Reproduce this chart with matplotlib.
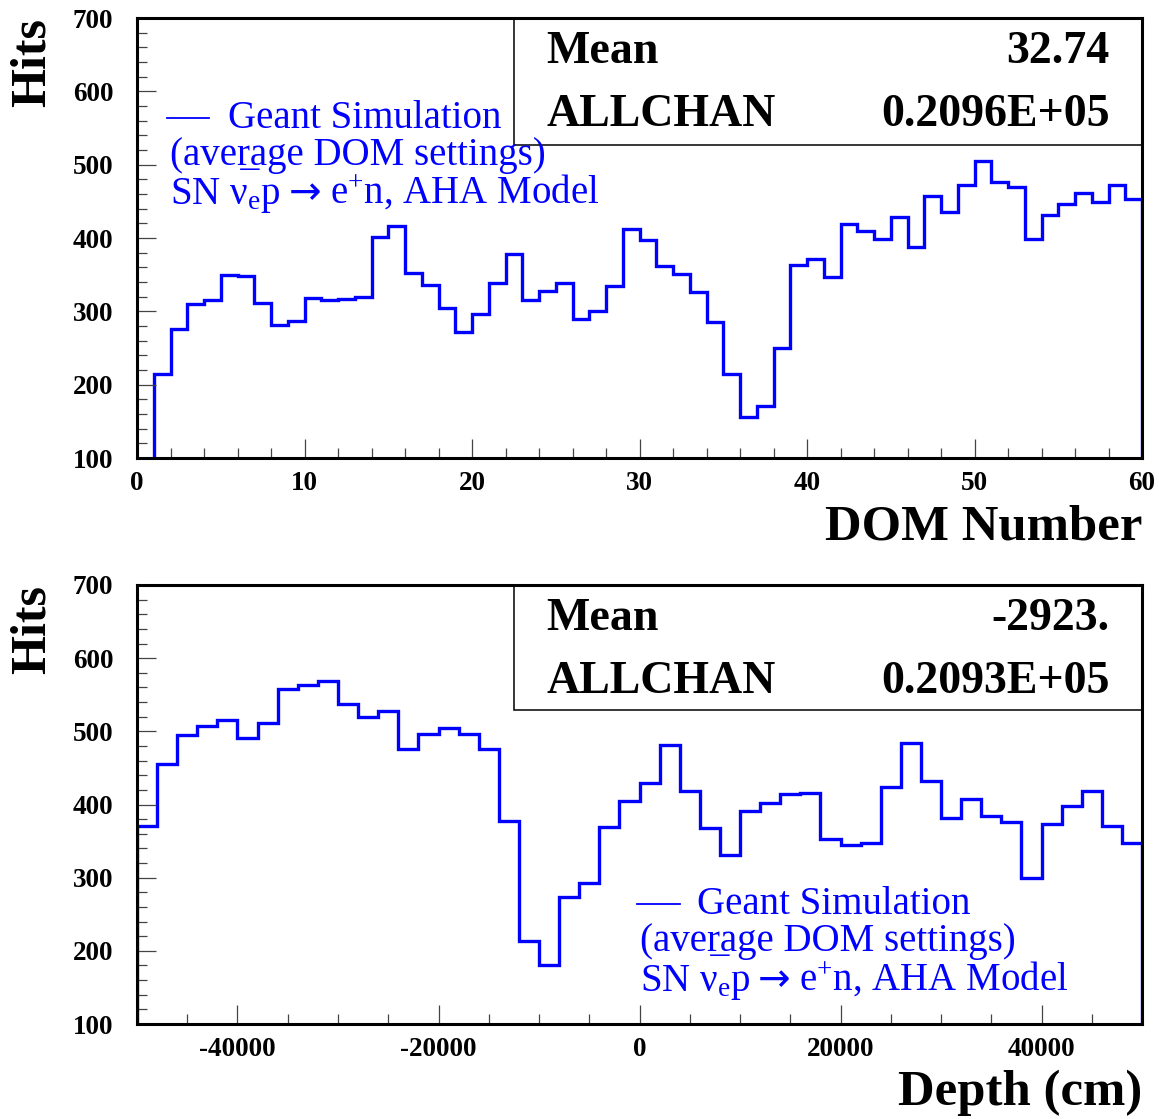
import matplotlib
matplotlib.use('Agg')
import matplotlib.pyplot as plt
from matplotlib.patches import Rectangle
from matplotlib.ticker import MultipleLocator, FuncFormatter
from matplotlib.offsetbox import TextArea, HPacker, AnnotationBbox
import numpy as np

# hits per DOM (bin 0 is empty)
dom_hits = [0, 215, 276, 310, 315, 350, 348, 312, 281, 287,
            318, 316, 317, 319, 402, 416, 352, 336, 305, 272,
            297, 338, 378, 315, 328, 339, 290, 300, 335, 412,
            397, 362, 351, 327, 285, 214, 156, 171, 250, 363,
            372, 347, 419, 410, 399, 429, 388, 457, 436, 472,
            505, 477, 469, 399, 432, 447, 462, 449, 472, 453]
dom_edges = np.arange(0, 61)

# hits per 20 m depth slice
depth_hits = [370, 456, 495, 507, 516, 491, 512, 558, 563, 569,
              537, 520, 528, 476, 496, 505, 496, 476, 377, 213,
              181, 273, 293, 369, 405, 429, 482, 418, 368, 331,
              391, 402, 414, 416, 353, 344, 348, 424, 484, 432,
              382, 408, 384, 376, 300, 373, 398, 419, 370, 347]
depth_edges = np.linspace(-50000, 50000, 51)

stats_top = [('Mean', '32.74'), ('ALLCHAN', '0.2096E+05')]
stats_bottom = [('Mean', '-2923.'), ('ALLCHAN', '0.2093E+05')]

legend_title = 'Geant Simulation'
legend_settings = '(ave' + 'r\u0332' + 'age DOM settings)'
legend_process = ['SN \u03bd$_{e}$p', '\u2192', 'e$^{+}$n, AHA Model']

plt.rcParams['font.family'] = ['Liberation Serif', 'DejaVu Serif']
plt.rcParams['font.weight'] = 'bold'
plt.rcParams['mathtext.default'] = 'regular'

LEG_SIZE = 28

W, H = 1159, 1119
fig = plt.figure(figsize=(W / 100, H / 100), dpi=100)
ax1 = fig.add_axes([137 / W, 1 - 458 / H, 1005 / W, 440 / H])
ax2 = fig.add_axes([137 / W, 1 - 1024 / H, 1005 / W, 439 / H])


def style_axes(ax, xlim, xmajor, xminor):
    ax.set_xlim(*xlim)
    ax.set_ylim(100, 700)
    ax.xaxis.set_major_locator(MultipleLocator(xmajor))
    ax.xaxis.set_minor_locator(MultipleLocator(xminor))
    ax.yaxis.set_major_locator(MultipleLocator(100))
    ax.yaxis.set_minor_locator(MultipleLocator(20))
    fmt = FuncFormatter(lambda v, p: f'{v:.0f}')
    ax.xaxis.set_major_formatter(fmt)
    ax.yaxis.set_major_formatter(fmt)
    ax.tick_params(which='both', direction='in', top=False, right=False,
                   color='#444444', width=0.9)
    ax.tick_params(which='major', length=14)
    ax.tick_params(which='minor', length=7.5)
    ax.tick_params(axis='y', pad=17, labelsize=19.5)
    ax.tick_params(axis='x', pad=9, labelsize=19.5)
    for s in ax.spines.values():
        s.set_linewidth(2.2)


def stats_box(ax, rows, y0):
    ax.add_patch(Rectangle((0.375, y0), 0.625, 1 - y0, transform=ax.transAxes,
                           fill=False, edgecolor='black', linewidth=1.1,
                           zorder=4))
    for (name, val), y in zip(rows, [0.923, 0.78]):
        ax.text(0.407, y, name, transform=ax.transAxes, fontsize=33,
                ha='left', va='center', zorder=5)
        ax.text(0.968, y, val, transform=ax.transAxes, fontsize=33,
                ha='right', va='center', zorder=5)


def legend_block(ax, x_dash, x_text, x_lines, ys):
    props = dict(color='blue', fontsize=LEG_SIZE, fontweight='normal')
    ax.plot([x_dash[0], x_dash[1]], [ys[0], ys[0]], transform=ax.transAxes,
            color='blue', linewidth=1.3, zorder=6)
    ax.text(x_text, ys[0], legend_title, transform=ax.transAxes,
            va='center', zorder=6, **props)
    ax.text(x_lines, ys[1], legend_settings, transform=ax.transAxes,
            va='center', zorder=6, **props)
    parts = []
    for i, piece in enumerate(legend_process):
        tp = dict(props)
        if i == 1:
            tp['family'] = 'DejaVu Sans'
        parts.append(TextArea(piece, textprops=tp))
    row = HPacker(children=parts, align='baseline', pad=0, sep=6)
    ab = AnnotationBbox(row, (x_lines, ys[2]), xycoords=ax.transAxes,
                        box_alignment=(0, 0.5), frameon=False, pad=0,
                        zorder=6)
    ax.add_artist(ab)


# --- hits vs DOM number ---
ax1.stairs(dom_hits, dom_edges, baseline=0, color='blue', linewidth=2.4)
style_axes(ax1, (0, 60), 10, 2)
stats_box(ax1, stats_top, 0.711)
legend_block(ax1, (0.03, 0.072), 0.091, 0.033,
             [(458 - 118) / 440, (458 - 155) / 440, (458 - 194) / 440])

# --- hits vs depth ---
ax2.stairs(depth_hits, depth_edges, baseline=0, color='blue', linewidth=2.4)
style_axes(ax2, (-50000, 50000), 20000, 5000)
stats_box(ax2, stats_bottom, 0.715)
legend_block(ax2, (0.498, 0.54), 0.557, 0.5,
             [(1024 - 904) / 439, (1024 - 941) / 439, (1024 - 981) / 439])

# axis titles, ROOT style
fig.text(33 / W, 1 - 18 / H, 'Hits', rotation=90, fontsize=36,
         ha='center', va='top')
fig.text(33 / W, 1 - 585 / H, 'Hits', rotation=90, fontsize=36,
         ha='center', va='top')
fig.text(1142 / W, 1 - 528 / H, 'DOM Number', fontsize=36.5,
         ha='right', va='center')
fig.text(1142 / W, 1 - 1093 / H, 'Depth (cm)', fontsize=36.5,
         ha='right', va='center')

fig.savefig('out.png', dpi=100)
